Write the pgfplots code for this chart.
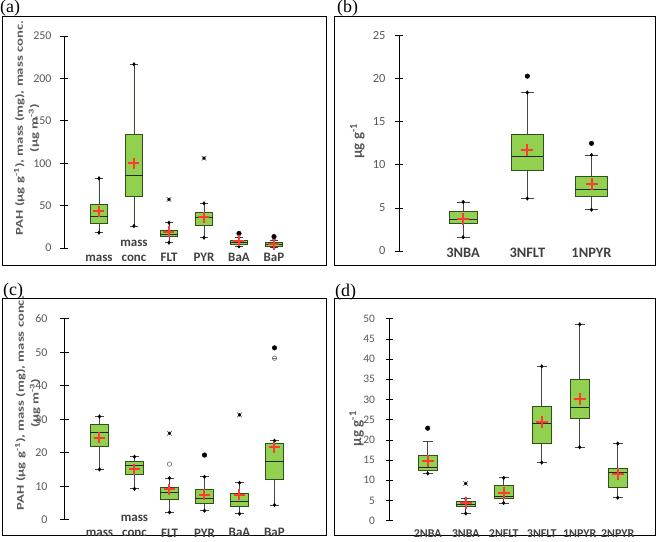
\documentclass[border=0pt]{standalone}
\usepackage{fontspec}
\setmainfont{Liberation Serif}
\newfontfamily\carl{Carlito}
\usepackage{graphicx}
\usepackage{pgfplots}
\pgfplotsset{compat=1.18}
\usepgfplotslibrary{statistics}
\definecolor{boxgreen}{RGB}{146,208,80}
\definecolor{boxline}{RGB}{50,80,30}
\definecolor{whisk}{RGB}{70,70,70}
\definecolor{meanred}{RGB}{250,60,50}
\definecolor{tickgray}{RGB}{89,89,89}
\definecolor{catgray}{RGB}{64,64,64}
\definecolor{outgray}{RGB}{110,110,110}
\pgfplotsset{
  panel/.style={
    scale only axis, anchor=south west, clip=false, xmin=0, ymin=0,
    axis x line*=bottom, axis y line*=left,
    x axis line style={draw=none}, xtick style={draw=none},
    y axis line style={black, line width=0.8bp},
    ytick style={black, line width=0.8bp},
    tick align=center, major tick length=8bp,
    /pgf/number format/assume math mode=true,
    yticklabel style={font=\carl\fontsize{12}{13}\selectfont, text=tickgray, xshift=-5bp},
    xticklabel style={font=\carl\bfseries\fontsize{13}{15.3}\selectfont, text=catgray, align=center, anchor=south, inner sep=0pt},
    ylabel style={text=tickgray, align=center, anchor=center},
    boxplot/draw direction=y,
  },
  bx/.style={draw=boxline, fill=boxgreen, line width=0.8bp, solid,
    boxplot/every whisker/.style={draw=whisk, line width=0.8bp},
    boxplot/every median/.style={draw=black!85, line width=1bp}},
  mn/.style={only marks, mark=+, mark size=5.5bp, draw=meanred, line width=2bp},
  wend/.style={only marks, mark=diamond*, mark size=1.8bp, draw=black, fill=black},
  dot/.style={only marks, mark=*, mark size=2.3bp, draw=black, fill=black},
  xo/.style={only marks, mark=x, mark size=3.3bp, draw=outgray, line width=0.7bp},
  xc/.style={only marks, mark=*, mark size=1.4bp, draw=black, fill=black},
  oc/.style={only marks, mark=o, mark size=2.2bp, draw=outgray, line width=0.6bp},
  hc/.style={only marks, mark=-, mark size=2.2bp, draw=outgray, line width=0.6bp},
}
\newcommand{\bxp}[6]{\addplot[bx, boxplot prepared={draw position=#1, lower whisker=#2, lower quartile=#3, median=#4, upper quartile=#5, upper whisker=#6}] coordinates {};}
\begin{document}
\begin{tikzpicture}
\path[use as bounding box, fill=white] (0bp,0bp) rectangle (660bp,542bp);
\draw[line width=1bp] (2bp,276bp) rectangle (326bp,525bp);
\draw[line width=1bp] (334bp,276bp) rectangle (655bp,525bp);
\draw[line width=1bp] (2bp,6bp) rectangle (326bp,243bp);
\draw[line width=1bp] (334bp,6bp) rectangle (655bp,243bp);
\node[anchor=north west, inner sep=0pt, font=\fontsize{18}{18}\selectfont] at (0bp,542bp) {(a)};
\node[anchor=north west, inner sep=0pt, font=\fontsize{18}{18}\selectfont] at (337bp,542bp) {(b)};
\node[anchor=north west, inner sep=0pt, font=\fontsize{18}{18}\selectfont] at (3bp,259bp) {(c)};
\node[anchor=north west, inner sep=0pt, font=\fontsize{18}{18}\selectfont] at (335bp,258bp) {(d)};

% (a)
\begin{axis}[panel, at={(64bp,294bp)}, width=245bp, height=212bp, xmax=7, ymax=250,
  ytick distance=50, xtick={1,2,3,4,5,6},
  xticklabels={mass,{mass\\conc},FLT,PYR,BaA,BaP},
  xticklabel style={yshift=-9.7bp},
  boxplot/box extend=0.5, boxplot/whisker extend=0.23,
  ylabel={\scalebox{1.4}[1]{PAH (µg g\textsuperscript{-1}), mass (mg), mass conc.}\\\scalebox{1.4}[1]{(µg m\textsuperscript{-3})}},
  ylabel style={at={(axis description cs:-0.152,0.566)}, font=\carl\bfseries\fontsize{10.5}{15}\selectfont}]
\bxp{1}{18.1}{29.1}{36.9}{51.5}{82.2}
\bxp{2}{25.9}{60.5}{86}{134}{216.7}
\bxp{3}{6.3}{14.2}{16.5}{20.4}{29.8}
\bxp{4}{12.2}{27.1}{35.5}{42.1}{52.7}
\bxp{5}{2}{4.7}{7}{9.1}{12.5}
\bxp{6}{0.3}{1.6}{4}{6.3}{9.5}
\addplot[wend] coordinates {(1,18.1)(1,82.2)(2,25.9)(2,216.7)(3,6.3)(3,29.8)(4,12.2)(4,52.7)(5,2)(5,12.5)(6,0.3)(6,9.5)};
\addplot[dot] coordinates {(5,17.2)(6,13.4)};
\addplot[xo] coordinates {(3,57.4)(4,106)};
\addplot[xc] coordinates {(3,57.4)(4,106)};
\addplot[mn] coordinates {(1,43.6)(2,99.8)(3,19.3)(4,36.2)(5,8.3)(6,4.3)};
\end{axis}

% (b)
\begin{axis}[panel, at={(399bp,291bp)}, width=231bp, height=215.3bp, xmax=3.6, ymax=25,
  ytick distance=5, xtick={1,2,3},
  xticklabels={3NBA,3NFLT,1NPYR},
  yticklabel style={font=\carl\fontsize{12.5}{14}\selectfont, xshift=-1bp},
  xticklabel style={yshift=-3bp, font=\carl\bfseries\fontsize{14.5}{16}\selectfont},
  boxplot/box extend=0.5, boxplot/whisker extend=0.2,
  ylabel={µg g\textsuperscript{-1}},
  ylabel style={at={(axis description cs:-0.18,0.51)}, font=\carl\bfseries\fontsize{15}{17}\selectfont}]
\addplot[bx, boxplot prepared={draw position=1, lower whisker=1.6, lower quartile=3.2, median=3.6, upper quartile=4.6, upper whisker=5.7, box extend=0.44}] coordinates {};
\bxp{2}{6.1}{9.4}{10.95}{13.5}{18.4}
\bxp{3}{4.8}{6.35}{7.16}{8.7}{11.15}
\addplot[wend] coordinates {(1,1.6)(1,5.7)(2,6.1)(2,18.4)(3,4.8)(3,11.15)};
\addplot[dot] coordinates {(2,20.3)(3,12.5)};
\addplot[mn, mark size=6bp] coordinates {(1,3.7)(2,11.7)(3,7.8)};
\end{axis}

% (c)
\begin{axis}[panel, at={(64.5bp,22.3bp)}, width=245bp, height=201bp, xmax=7, ymax=60,
  ytick distance=10, xtick={1,2,3,4,5,6},
  xticklabels={mass,{mass\\conc},FLT,PYR,BaA,BaP},
  xticklabel style={yshift=-13.5bp},
  yticklabel style={xshift=-4.5bp},
  boxplot/box extend=0.53, boxplot/whisker extend=0.23,
  ylabel={\scalebox{1.4}[1]{PAH (µg g\textsuperscript{-1}), mass (mg), mass conc.}\\\scalebox{1.4}[1]{(µg m\textsuperscript{-3})}},
  ylabel style={at={(axis description cs:-0.15,0.58)}, font=\carl\bfseries\fontsize{10.5}{15}\selectfont}]
\bxp{1}{15.0}{22.0}{26}{28.3}{30.8}
\bxp{2}{9.25}{13.5}{16.3}{17.3}{18.8}
\bxp{3}{2.2}{6.1}{8.1}{9.7}{12.4}
\bxp{4}{2.7}{4.9}{6.3}{9.1}{12.8}
\bxp{5}{1.8}{3.9}{5.5}{8.0}{11.0}
\bxp{6}{4.4}{12.1}{17.5}{22.8}{23.6}
\addplot[wend] coordinates {(1,15.0)(1,30.8)(2,9.25)(2,18.8)(3,2.2)(3,12.4)(4,2.7)(4,12.8)(5,1.8)(5,11.0)(6,4.4)(6,23.6)};
\addplot[dot] coordinates {(4,19.3)(6,51.3)};
\addplot[xo] coordinates {(3,25.8)(5,31.3)};
\addplot[xc] coordinates {(3,25.8)(5,31.3)};
\addplot[oc] coordinates {(3,16.6)(6,48.2)};
\addplot[hc] coordinates {(6,48.2)};
\addplot[mn] coordinates {(1,24.5)(2,15)(3,9.1)(4,7.5)(5,7.4)(6,21.6)};
\end{axis}

% (d)
\begin{axis}[panel, at={(389.7bp,21.3bp)}, width=250.8bp, height=202bp, xmax=6.6, ymax=50,
  ytick distance=5, xtick={1,2,3,4,5,6},
  xticklabels={2NBA,3NBA,2NFLT,3NFLT,1NPYR,2NPYR},
  yticklabel style={font=\carl\fontsize{11.5}{13}\selectfont, xshift=-2.5bp},
  xticklabel style={yshift=-13bp, font=\carl\bfseries\fontsize{12}{13}\selectfont},
  boxplot/box extend=0.5, boxplot/whisker extend=0.26,
  major tick length=7.3bp,
  ylabel={µg g\textsuperscript{-1}},
  ylabel style={at={(axis description cs:-0.132,0.456)}, font=\carl\bfseries\fontsize{15}{17}\selectfont}]
\bxp{1}{11.7}{12.46}{13.1}{16.25}{19.55}
\bxp{2}{1.8}{3.6}{4.0}{4.9}{5.45}
\bxp{3}{4.4}{5.5}{6.1}{8.75}{10.6}
\bxp{4}{14.4}{19.06}{24.1}{28.3}{38.2}
\bxp{5}{18.2}{25.4}{27.9}{35.0}{48.6}
\bxp{6}{5.7}{8.25}{12.0}{12.95}{19.1}
\addplot[wend] coordinates {(1,11.7)(2,1.8)(2,5.45)(3,4.4)(3,10.6)(4,14.4)(4,38.2)(5,18.2)(5,48.6)(6,5.7)(6,19.1)};
\addplot[dot] coordinates {(1,22.9)};
\addplot[xo] coordinates {(2,9.2)};
\addplot[xc] coordinates {(2,9.2)};
\addplot[mn, mark size=6bp] coordinates {(1,14.8)(2,4.3)(3,6.9)(4,24.4)(5,30.2)(6,11.6)};
\end{axis}
\end{tikzpicture}
\end{document}
